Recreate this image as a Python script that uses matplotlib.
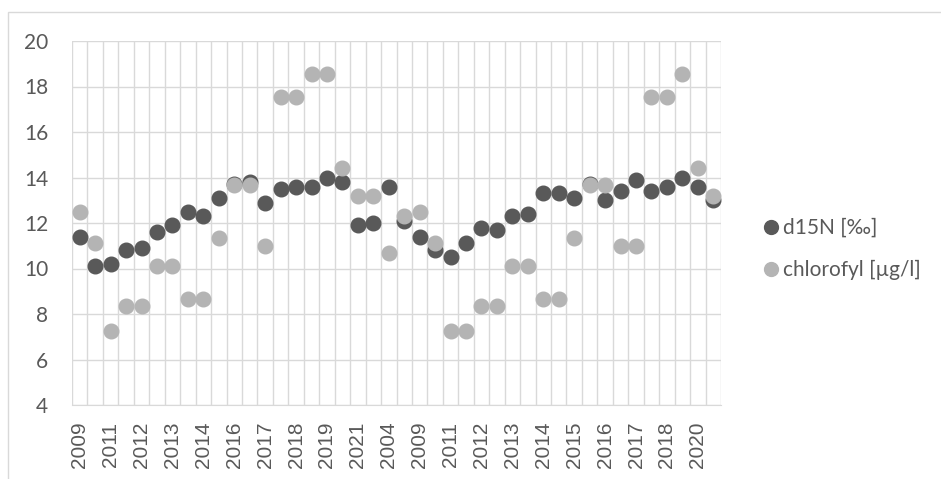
import numpy as np
import matplotlib
matplotlib.use("Agg")
import matplotlib.pyplot as plt
from matplotlib.patches import Rectangle

# x-axis: one category per point, only every second one is labelled
n_points = 42
tick_labels = ["2009", "2011", "2012", "2013", "2014", "2016", "2017", "2018", "2019", "2021", "2004",
               "2009", "2011", "2012", "2013", "2014", "2015", "2016", "2017", "2018", "2020"]

d15n = [11.4, 10.1, 10.2, 10.8, 10.9, 11.6, 11.9, 12.5, 12.3, 13.1, 13.7, 13.8, 12.9, 13.5,
        13.6, 13.6, 14.0, 13.8, 11.9, 12.0, 13.6, 12.1, 11.4, 10.8, 10.5, 11.1, 11.8, 11.7,
        12.3, 12.4, 13.3, 13.3, 13.1, 13.7, 13.0, 13.4, 13.9, 13.4, 13.6, 14.0, 13.6, 13.0]

chlorofyl = [12.5, 11.1, 7.25, 8.35, 8.35, 10.1, 10.1, 8.65, 8.65, 11.35, 13.65, 13.65, 11.0, 17.55,
             17.55, 18.55, 18.55, 14.4, 13.2, 13.2, 10.7, 12.3, 12.5, 11.1, 7.25, 7.25, 8.35, 8.35,
             10.1, 10.1, 8.65, 8.65, 11.35, 13.65, 13.65, 11.0, 11.0, 17.55, 17.55, 18.55, 14.4, 13.2]

DARK = "#595959"
LIGHT = "#b4b4b4"
GRID = "#d9d9d9"
TEXT = "#595959"

fig = plt.figure(figsize=(9.41, 4.79), dpi=100)
ax = fig.add_axes([72 / 941, 1 - 405 / 479, 649 / 941, 364 / 479])

# chart-area border (runs off the picture on the right and bottom)
fig.patches.append(Rectangle((7.5 / 941, -0.1), 1.2, 1 - 12 / 479 + 0.1,
                             transform=fig.transFigure, fill=False,
                             edgecolor=GRID, linewidth=1.0))

x = np.arange(n_points)
ax.plot(x, d15n, linestyle="none", marker="o", markersize=10.5, color=DARK,
        label="d15N [‰]", zorder=3)
ax.plot(x, chlorofyl, linestyle="none", marker="o", markersize=10.5, color=LIGHT,
        label="chlorofyl [µg/l]", zorder=4)

ax.set_xlim(-0.5, n_points - 0.5)
ax.set_ylim(4, 20)
ax.set_yticks(range(4, 21, 2))
ax.set_xticks(np.arange(0, n_points, 2))
ax.set_xticklabels(tick_labels, rotation=90, fontfamily="Liberation Sans", fontsize=15, color=TEXT)
for lab in ax.get_yticklabels():
    lab.set_fontfamily("Lato")
    lab.set_fontsize(15)
    lab.set_color(TEXT)

# gridlines between the categories, like Excel
ax.set_xticks(np.arange(-0.5, n_points, 1), minor=True)
ax.grid(True, which="minor", axis="x", color=GRID, linewidth=1.0)
ax.grid(True, which="major", axis="y", color=GRID, linewidth=1.0)
ax.set_axisbelow(True)
ax.tick_params(axis="both", which="both", length=0)
ax.tick_params(axis="y", pad=17)
ax.tick_params(axis="x", pad=12)
for side in ["left", "top", "right"]:
    ax.spines[side].set_visible(False)
ax.spines["bottom"].set_color(GRID)

leg = ax.legend(loc="center left", bbox_to_anchor=(752 / 941, 1 - 249 / 479),
                bbox_transform=fig.transFigure, frameon=False, handletextpad=0.1,
                labelspacing=1.05, markerscale=0.95, prop={"family": "Lato", "size": 15},
                handlelength=1.0, borderaxespad=0)
for t in leg.get_texts():
    t.set_color(TEXT)

fig.savefig("out.png", dpi=100)
